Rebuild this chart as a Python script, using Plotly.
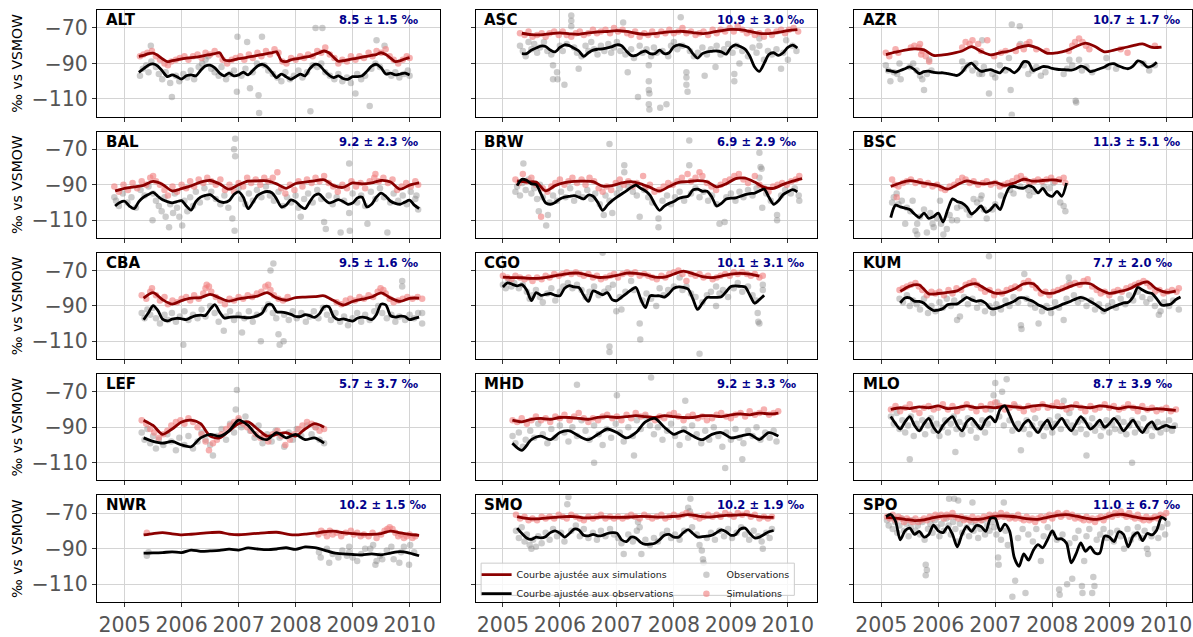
import plotly.graph_objects as go

# ---------------------------------------------------------------------------
# Stations, panel statistics and axis ticks
# ---------------------------------------------------------------------------
STATIONS = ["ALT", "ASC", "AZR", "BAL", "BRW", "BSC", "CBA", "CGO",
            "KUM", "LEF", "MHD", "MLO", "NWR", "SMO", "SPO"]
BIAS_MEAN = [8.5, 10.9, 10.7, 9.2, 6.9, 11.3, 9.5, 10.1, 7.7, 5.7, 9.2, 8.7, 10.2, 10.2, 11.0]
BIAS_STD = [1.5, 3.0, 1.7, 2.3, 2.9, 5.1, 1.6, 3.1, 2.0, 3.7, 3.3, 3.9, 1.5, 1.9, 6.7]
X_TICKS = [2005, 2006, 2007, 2008, 2009, 2010]
Y_TICKS = [-70, -90, -110]
Y_TICK_TEXT = ["\u221270", "\u221290", "\u2212110"]

# Fitted curves are stored on a regular monthly grid:
# (first month counted from Jan 2005, step in months) for simulations, then observations
FIT_GRID = {
    "ALT": (3, 1, 3, 1), "ASC": (4, 2, 4, 1), "AZR": (1, 2, 1, 1),
    "BAL": (-2, 2, -2, 1), "BRW": (3, 2, 3, 1), "BSC": (2, 2, 2, 1),
    "CBA": (4, 2, 4, 1), "CGO": (0, 2, 0, 1), "KUM": (4, 2, 4, 1),
    "LEF": (4, 2, 4, 2), "MHD": (2, 2, 2, 2), "MLO": (2, 2, 2, 1),
    "NWR": (4, 2, 4, 2), "SMO": (3, 2, 3, 1), "SPO": (1, 2, 1, 1),
}

# ---------------------------------------------------------------------------
# ALT
# ---------------------------------------------------------------------------
ALT_FIT_SIM = [-86, -85.5, -84.5, -84.2, -85.5, -87.5, -89, -88.5, -88, -87.5, -87, -86.8, -86.5, -86, -85.5,
               -85, -84.5, -84, -88, -88.5, -88, -87.3, -87, -86.5, -86, -85.5, -85, -84.5, -84, -83.5, -88.5,
               -89, -88, -87.5, -87, -86.5, -86, -85, -84, -83, -84, -86.5, -88.8, -88.5, -88, -87.5, -87,
               -86.5, -86, -85.5, -85, -84, -85, -87, -89, -88.5, -87.5, -86.8]
ALT_FIT_OBS = [-95, -93, -91, -90.3, -91.5, -94.5, -97.5, -96.5, -97.5, -98.8, -97, -96.5, -97, -94, -91.5,
               -91, -92.5, -95.5, -97, -95.5, -97, -96.5, -95, -96.5, -94, -91.5, -90.5, -92, -95, -98, -96,
               -97.5, -99, -97.5, -96, -97, -93, -90.5, -91, -94, -96.5, -98, -97, -98.5, -99, -97.5, -97.5,
               -97, -94.5, -91.5, -90.5, -92.5, -96, -95.5, -96.5, -96, -95.5, -96.5]
ALT_OBS = [(2005.27, -97), (2005.32, -93), (2005.38, -91), (2005.42, -95), (2005.47, -89), (2005.46, -80),
           (2005.55, -92), (2005.6, -96), (2005.66, -99), (2005.72, -95), (2005.8, -101), (2005.83, -109),
           (2005.9, -97), (2005.96, -100), (2006.03, -96), (2006.1, -98), (2006.16, -94), (2006.22, -99),
           (2006.3, -92), (2006.36, -90), (2006.42, -88), (2006.47, -86), (2006.52, -93), (2006.58, -95),
           (2006.65, -97), (2006.7, -92), (2006.78, -99), (2006.85, -96), (2006.92, -94), (2006.97, -106),
           (2006.98, -75), (2007.05, -97), (2007.12, -93), (2007.15, -78), (2007.2, -104), (2007.25, -95),
           (2007.32, -90), (2007.35, -108), (2007.36, -118), (2007.41, -75), (2007.45, -91), (2007.52, -94),
           (2007.6, -96), (2007.68, -98), (2007.75, -100), (2007.82, -95), (2007.9, -99), (2007.97, -97),
           (2008.05, -94), (2008.12, -98), (2008.2, -95), (2008.26, -117), (2008.3, -91), (2008.35, -70),
           (2008.38, -92), (2008.45, -90), (2008.47, -70), (2008.52, -95), (2008.6, -97), (2008.68, -99),
           (2008.75, -96), (2008.82, -100), (2008.9, -98), (2008.97, -101), (2009.05, -107), (2009.08, -96),
           (2009.15, -99), (2009.22, -97), (2009.3, -114), (2009.33, -93), (2009.4, -90), (2009.42, -77),
           (2009.48, -92), (2009.56, -80), (2009.6, -95), (2009.68, -97), (2009.75, -95), (2009.82, -98),
           (2009.9, -96), (2009.97, -94), (2010.0, -97)]
ALT_SIM = [(2005.27, -86), (2005.33, -85), (2005.4, -84), (2005.48, -83), (2005.55, -86), (2005.62, -88),
           (2005.7, -90), (2005.76, -91), (2005.82, -89), (2005.9, -88), (2005.97, -87), (2006.05, -86),
           (2006.12, -88), (2006.2, -86), (2006.28, -85), (2006.35, -87), (2006.42, -84), (2006.5, -85),
           (2006.58, -83), (2006.65, -85), (2006.72, -88), (2006.8, -90), (2006.88, -88), (2006.95, -87),
           (2007.03, -86), (2007.1, -88), (2007.18, -85), (2007.25, -87), (2007.33, -84), (2007.4, -86),
           (2007.48, -83), (2007.55, -85), (2007.63, -82), (2007.7, -84), (2007.77, -89), (2007.84, -90),
           (2007.92, -87), (2008.0, -88), (2008.08, -86), (2008.15, -87), (2008.22, -85), (2008.3, -86),
           (2008.38, -83), (2008.45, -84), (2008.52, -81), (2008.6, -85), (2008.68, -87), (2008.75, -90),
           (2008.82, -88), (2008.9, -89), (2008.97, -86), (2009.05, -88), (2009.12, -86), (2009.2, -87),
           (2009.28, -84), (2009.35, -86), (2009.42, -83), (2009.5, -84), (2009.58, -82), (2009.65, -86),
           (2009.72, -88), (2009.8, -90), (2009.88, -88), (2009.95, -86), (2010.0, -87)]

# ---------------------------------------------------------------------------
# ASC
# ---------------------------------------------------------------------------
ASC_FIT_SIM = [-73, -73.8, -73.9, -73.2, -72.8, -73.3, -73.6, -72.8, -72.2, -72, -71.5, -72, -73, -73.6,
               -73.2, -72.5, -72.1, -72, -72.6, -73.2, -72.5, -71.5, -70.8, -71, -72, -73.1, -73.2, -72.5,
               -71.5, -71]
ASC_FIT_OBS = [-84.5, -84.5, -82.5, -81.3, -80.2, -80.5, -82.5, -83.5, -81, -79.5, -80, -81.5, -83, -86, -84,
               -82.5, -82, -81.8, -81.3, -80.5, -79.5, -80, -83, -85.5, -85.5, -84, -83, -84.5, -84.5, -82.5,
               -84.5, -84, -80.5, -79.5, -80, -81, -84.5, -87, -84.5, -83.5, -83.2, -83, -83.5, -84.8, -81,
               -79.5, -80.5, -82, -86, -92, -94.5, -90, -85, -84, -85.5, -84, -81, -79.7, -81.3]
ASC_OBS = [(2005.3, -80), (2005.35, -83), (2005.4, -86), (2005.45, -78), (2005.5, -82), (2005.55, -79),
           (2005.6, -84), (2005.65, -81), (2005.72, -78), (2005.78, -83), (2005.85, -85), (2005.88, -91),
           (2005.88, -99), (2005.95, -95), (2005.96, -99), (2006.0, -80), (2006.05, -83), (2006.08, -102),
           (2006.12, -79), (2006.2, -63), (2006.2, -66), (2006.2, -69), (2006.25, -81), (2006.3, -84),
           (2006.33, -93), (2006.38, -86), (2006.45, -80), (2006.5, -83), (2006.55, -78), (2006.6, -82),
           (2006.66, -85), (2006.72, -80), (2006.78, -83), (2006.85, -79), (2006.9, -84), (2006.95, -81),
           (2007.0, -78), (2007.06, -83), (2007.11, -67), (2007.15, -85), (2007.19, -95), (2007.25, -82),
           (2007.3, -87), (2007.37, -109), (2007.4, -80), (2007.45, -84), (2007.52, -82), (2007.56, -91),
           (2007.56, -100), (2007.56, -105), (2007.57, -107), (2007.56, -113), (2007.57, -116), (2007.6, -86),
           (2007.65, -81), (2007.7, -84), (2007.76, -115), (2007.8, -83), (2007.87, -113), (2007.9, -86),
           (2007.95, -80), (2008.0, -78), (2008.06, -82), (2008.12, -64), (2008.15, -80), (2008.22, -95),
           (2008.22, -98), (2008.22, -102), (2008.24, -106), (2008.28, -83), (2008.35, -86), (2008.42, -84),
           (2008.5, -81), (2008.54, -97), (2008.58, -85), (2008.65, -82), (2008.73, -92), (2008.75, -80),
           (2008.82, -85), (2008.88, -82), (2008.95, -79), (2009.03, -84), (2009.06, -96), (2009.06, -100),
           (2009.1, -80), (2009.15, -90), (2009.2, -83), (2009.3, -86), (2009.38, -81), (2009.45, -84),
           (2009.5, -76), (2009.5, -80), (2009.58, -88), (2009.65, -83), (2009.72, -85), (2009.8, -82),
           (2009.88, -93), (2009.92, -84), (2009.97, -77), (2010.0, -88), (2010.08, -80), (2010.15, -83)]
ASC_SIM = [(2005.3, -73), (2005.38, -74), (2005.45, -72), (2005.52, -75), (2005.6, -74), (2005.68, -73),
           (2005.75, -75), (2005.82, -73), (2005.9, -72), (2005.98, -74), (2006.05, -72), (2006.12, -74),
           (2006.2, -75), (2006.28, -73), (2006.35, -72), (2006.42, -74), (2006.5, -73), (2006.58, -71),
           (2006.65, -73), (2006.72, -72), (2006.8, -71), (2006.88, -73), (2006.95, -70), (2007.02, -72),
           (2007.1, -71), (2007.18, -73), (2007.25, -74), (2007.32, -72), (2007.4, -75), (2007.48, -73),
           (2007.55, -74), (2007.62, -72), (2007.7, -74), (2007.78, -72), (2007.85, -73), (2007.92, -71),
           (2008.0, -73), (2008.08, -72), (2008.15, -70), (2008.22, -73), (2008.3, -72), (2008.38, -74),
           (2008.45, -73), (2008.52, -72), (2008.6, -74), (2008.68, -71), (2008.75, -73), (2008.82, -71),
           (2008.9, -72), (2008.98, -70), (2009.05, -72), (2009.12, -69), (2009.2, -71), (2009.28, -73),
           (2009.35, -72), (2009.42, -74), (2009.5, -73), (2009.58, -75), (2009.65, -72), (2009.72, -74),
           (2009.8, -72), (2009.88, -71), (2009.95, -73), (2010.02, -71), (2010.1, -70), (2010.18, -72)]

# ---------------------------------------------------------------------------
# AZR
# ---------------------------------------------------------------------------
AZR_FIT_SIM = [-85, -83.7, -82.5, -81.8, -82.4, -85.5, -85.2, -84.3, -83, -80.5, -83.2, -85.2, -84, -83, -81,
               -79.9, -81.5, -84.3, -84, -82.8, -80.5, -78.6, -80.5, -83.5, -82.5, -81.3, -80, -79, -81, -80.8]
AZR_FIT_OBS = [-93.8, -94.2, -94.9, -94, -93, -92, -93.5, -95.7, -94.6, -94.4, -95, -95.3, -95.3, -95.8, -96.3,
               -96.8, -95, -91.5, -89.8, -92.5, -94.4, -94, -93.5, -94.5, -95.3, -92.5, -93.5, -95.3, -93,
               -89, -89.5, -94, -93, -91.8, -92, -92.8, -93.3, -93.5, -93.6, -93.8, -93, -91.6, -92.5, -94.6,
               -94, -93, -92, -90.5, -90.2, -91.5, -92.5, -93, -91.5, -88.6, -89.5, -92, -91.5, -89.3]
AZR_OBS = [(2005.08, -91), (2005.12, -94), (2005.16, -100), (2005.22, -95), (2005.28, -96), (2005.32, -90),
           (2005.34, -99), (2005.5, -92), (2005.56, -90), (2005.62, -94), (2005.68, -97), (2005.72, -99),
           (2005.75, -105), (2005.8, -96), (2005.84, -88), (2005.88, -94), (2006.42, -89), (2006.45, -93),
           (2006.52, -91), (2006.6, -94), (2006.65, -90), (2006.72, -96), (2006.77, -96), (2006.8, -92),
           (2006.77, -77), (2006.89, -107), (2006.95, -96), (2007.0, -98), (2007.08, -91), (2007.18, -94),
           (2007.24, -87), (2007.27, -105), (2007.29, -68), (2007.29, -119), (2007.43, -69), (2007.44, -79),
           (2007.5, -91), (2007.58, -96), (2007.65, -94), (2007.72, -92), (2007.8, -97), (2007.88, -95),
           (2008.2, -96), (2008.26, -93), (2008.3, -88), (2008.35, -91), (2008.41, -111), (2008.42, -112),
           (2008.47, -88), (2008.52, -94), (2008.6, -92), (2008.7, -95), (2008.95, -87), (2008.98, -92),
           (2009.12, -93), (2009.6, -90), (2009.7, -94), (2009.8, -91)]
AZR_SIM = [(2005.08, -84), (2005.14, -86), (2005.25, -82), (2005.3, -84), (2005.52, -81), (2005.58, -80),
           (2005.66, -81), (2005.68, -79), (2005.72, -83), (2005.78, -86), (2005.84, -89), (2005.7, -85),
           (2006.42, -81), (2006.48, -78), (2006.55, -79), (2006.6, -77), (2006.7, -79), (2006.75, -83),
           (2006.86, -77), (2006.98, -86), (2007.1, -84), (2007.18, -83), (2007.36, -83), (2007.42, -80),
           (2007.5, -82), (2007.55, -79), (2007.6, -78), (2007.72, -82), (2007.9, -83), (2008.29, -83),
           (2008.35, -80), (2008.4, -78), (2008.47, -76), (2008.53, -78), (2008.59, -80), (2008.65, -82),
           (2009.2, -82), (2009.32, -84), (2009.8, -80)]

# ---------------------------------------------------------------------------
# BAL
# ---------------------------------------------------------------------------
BAL_FIT_SIM = [-93.5, -92, -91.2, -90.3, -88.1, -89.8, -93.5, -92.2, -90.6, -88.5, -87.6, -89.5, -92.5, -90,
               -88, -87.8, -87.8, -89.5, -92, -89.3, -88.5, -87.8, -87.2, -90.5, -91.5, -89, -89.5, -89,
               -87.6, -88.5, -92.5, -90.2, -89]
BAL_FIT_OBS = [-102, -100, -99.3, -102, -103.5, -99.5, -97, -95.5, -94.3, -96.5, -98.5, -99.5, -100.2, -99.5,
               -99, -102, -104.3, -99.5, -97, -96, -95.6, -97.5, -99.5, -100, -99, -95.5, -94, -97, -103.5,
               -100, -96, -94.5, -93.8, -94.5, -98, -102.5, -101.5, -98.5, -99.5, -102, -103.5, -99.5, -96,
               -95.3, -98, -100.2, -99.5, -98.4, -99.5, -101, -100.3, -97.5, -97, -102.5, -101, -97, -94.7,
               -96.5, -99.3, -100.5, -101, -99.8, -98.7, -101.5, -103.5]
BAL_OBS = [(2004.82, -97), (2004.85, -99), (2004.9, -102), (2004.97, -95), (2005.05, -100), (2005.12, -97),
           (2005.2, -103), (2005.28, -93), (2005.35, -96), (2005.42, -91), (2005.49, -110), (2005.5, -95),
           (2005.55, -99), (2005.6, -102), (2005.65, -105), (2005.7, -97), (2005.72, -108), (2005.78, -114),
           (2005.8, -101), (2005.85, -106), (2005.88, -95), (2005.92, -103), (2005.96, -108), (2006.01, -113),
           (2006.05, -99), (2006.1, -105), (2006.15, -97), (2006.2, -102), (2006.25, -94), (2006.32, -100),
           (2006.4, -92), (2006.45, -97), (2006.52, -94), (2006.6, -98), (2006.68, -101), (2006.75, -96),
           (2006.82, -103), (2006.89, -109), (2006.92, -70), (2006.93, -116), (2006.94, -64), (2006.94, -74),
           (2007.0, -92), (2007.05, -98), (2007.12, -101), (2007.18, -95), (2007.25, -99), (2007.32, -93),
           (2007.4, -97), (2007.48, -91), (2007.55, -96), (2007.62, -99), (2007.7, -94), (2007.78, -102),
           (2007.85, -97), (2007.92, -100), (2008.0, -96), (2008.05, -103), (2008.09, -108), (2008.15, -98),
           (2008.22, -95), (2008.3, -100), (2008.38, -93), (2008.45, -98), (2008.5, -111), (2008.53, -115),
           (2008.58, -96), (2008.65, -101), (2008.72, -97), (2008.79, -117), (2008.85, -99), (2008.94, -78),
           (2008.94, -106), (2008.95, -116), (2009.0, -95), (2009.08, -100), (2009.15, -96), (2009.22, -102),
           (2009.26, -112), (2009.32, -94), (2009.4, -98), (2009.48, -92), (2009.55, -97), (2009.61, -117),
           (2009.66, -100), (2009.72, -95), (2009.8, -99), (2009.88, -96), (2009.95, -101), (2010.02, -94),
           (2010.1, -98), (2010.12, -96), (2010.15, -104)]
BAL_SIM = [(2004.82, -91), (2004.9, -94), (2004.98, -90), (2005.06, -93), (2005.14, -89), (2005.22, -92),
           (2005.3, -88), (2005.38, -90), (2005.45, -86), (2005.5, -85), (2005.55, -88), (2005.62, -90),
           (2005.7, -93), (2005.76, -96), (2005.84, -91), (2005.92, -94), (2006.0, -90), (2006.08, -92),
           (2006.15, -88), (2006.22, -91), (2006.3, -87), (2006.38, -89), (2006.45, -86), (2006.52, -88),
           (2006.6, -90), (2006.68, -87), (2006.76, -93), (2006.84, -90), (2006.92, -94), (2007.0, -89),
           (2007.08, -91), (2007.15, -86), (2007.22, -89), (2007.3, -87), (2007.38, -90), (2007.45, -86),
           (2007.52, -88), (2007.6, -86), (2007.68, -83), (2007.75, -92), (2007.82, -95), (2007.9, -90),
           (2007.98, -93), (2008.05, -88), (2008.12, -91), (2008.2, -87), (2008.28, -89), (2008.35, -86),
           (2008.42, -88), (2008.5, -85), (2008.58, -89), (2008.66, -91), (2008.74, -94), (2008.82, -90),
           (2008.9, -92), (2008.98, -88), (2009.06, -91), (2009.14, -89), (2009.22, -92), (2009.3, -88),
           (2009.38, -86), (2009.4, -84), (2009.46, -88), (2009.54, -86), (2009.62, -89), (2009.7, -87),
           (2009.78, -93), (2009.86, -91), (2009.94, -89), (2010.02, -91), (2010.1, -88), (2010.15, -90)]

# ---------------------------------------------------------------------------
# BRW
# ---------------------------------------------------------------------------
BRW_FIT_SIM = [-87.8, -88.5, -88.5, -93.5, -90.5, -88.8, -88.1, -88, -88.3, -90.8, -90.5, -89, -88.2, -89.5,
               -91.5, -93.5, -91, -88.7, -88.2, -87.7, -88.3, -91.2, -89.5, -86.5, -86.3, -88.5, -91.5, -92,
               -89.8, -88, -86.5]
BRW_FIT_OBS = [-90.5, -87, -87.5, -89.5, -90, -95, -100.2, -101, -100, -98, -97, -96.5, -96.1, -97, -98, -95.8,
               -96.5, -100, -104.5, -101.5, -99, -97, -95.2, -93.5, -91.5, -90.2, -92, -93.5, -96, -101,
               -104.5, -102, -100.5, -99.5, -97.8, -97, -96.5, -93, -92.5, -93.7, -93.7, -97, -102, -100.5,
               -98, -97.6, -97.4, -96.5, -95.6, -95, -94.7, -93.5, -92.5, -97, -101, -99, -95.6, -94, -92.8, -94]
BRW_OBS = [(2005.22, -94), (2005.25, -91), (2005.3, -96), (2005.34, -89), (2005.36, -78), (2005.4, -93),
           (2005.45, -87), (2005.5, -95), (2005.55, -92), (2005.6, -98), (2005.63, -105), (2005.65, -90),
           (2005.7, -97), (2005.76, -113), (2005.79, -107), (2005.82, -100), (2005.88, -96), (2005.95, -99),
           (2006.02, -94), (2006.1, -97), (2006.18, -92), (2006.25, -99), (2006.32, -95), (2006.4, -97),
           (2006.48, -93), (2006.55, -98), (2006.62, -95), (2006.7, -101), (2006.77, -107), (2006.8, -96),
           (2006.87, -67), (2006.87, -99), (2006.92, -106), (2007.0, -95), (2007.05, -92), (2007.13, -79),
           (2007.13, -83), (2007.2, -91), (2007.28, -94), (2007.35, -96), (2007.4, -108), (2007.48, -93),
           (2007.55, -97), (2007.62, -100), (2007.73, -109), (2007.73, -114), (2007.8, -99), (2007.88, -96),
           (2007.95, -101), (2008.02, -97), (2008.1, -94), (2008.18, -99), (2008.27, -65), (2008.27, -79),
           (2008.3, -95), (2008.38, -92), (2008.45, -97), (2008.52, -94), (2008.6, -99), (2008.67, -96),
           (2008.75, -101), (2008.8, -112), (2008.89, -111), (2008.92, -97), (2009.0, -95), (2009.08, -99),
           (2009.15, -94), (2009.22, -97), (2009.3, -93), (2009.38, -96), (2009.45, -92), (2009.5, -72),
           (2009.52, -80), (2009.54, -81), (2009.5, -86), (2009.55, -103), (2009.62, -95), (2009.7, -99),
           (2009.81, -107), (2009.81, -110), (2009.88, -96), (2009.95, -93), (2010.05, -95), (2010.12, -92),
           (2010.19, -96), (2010.2, -99)]
BRW_SIM = [(2005.22, -87), (2005.28, -89), (2005.35, -84), (2005.42, -88), (2005.5, -86), (2005.58, -90),
           (2005.67, -108), (2005.7, -92), (2005.78, -94), (2005.85, -91), (2005.92, -89), (2006.0, -87),
           (2006.08, -90), (2006.15, -88), (2006.22, -86), (2006.3, -89), (2006.38, -87), (2006.45, -90),
           (2006.52, -86), (2006.6, -88), (2006.68, -92), (2006.75, -94), (2006.82, -91), (2006.9, -93),
           (2006.98, -89), (2007.05, -87), (2007.12, -90), (2007.2, -88), (2007.28, -91), (2007.35, -89),
           (2007.46, -85), (2007.5, -92), (2007.58, -90), (2007.66, -94), (2007.74, -93), (2007.82, -91),
           (2007.9, -89), (2007.98, -90), (2008.06, -88), (2008.14, -86), (2008.24, -84), (2008.3, -88),
           (2008.38, -86), (2008.45, -83), (2008.5, -85), (2008.58, -89), (2008.66, -91), (2008.74, -93),
           (2008.82, -90), (2008.9, -88), (2008.98, -87), (2009.06, -85), (2009.14, -84), (2009.22, -87),
           (2009.3, -89), (2009.42, -85), (2009.5, -90), (2009.58, -92), (2009.66, -94), (2009.74, -91),
           (2009.82, -90), (2009.9, -89), (2009.98, -90), (2010.06, -88), (2010.14, -87), (2010.2, -85)]

# ---------------------------------------------------------------------------
# BSC
# ---------------------------------------------------------------------------
BSC_FIT_SIM = [-91, -89, -87.7, -88.6, -89.5, -90.5, -92.5, -90, -87.8, -89, -89.5, -88.7, -90.3, -89, -86.9,
               -88, -87.6, -87.3, -88]
BSC_FIT_OBS = [-108.5, -101.5, -102.5, -103.2, -104, -106.5, -108.5, -106, -109, -108, -106, -111, -104, -98,
               -99.5, -100.3, -102.5, -106.5, -104.5, -102, -105.5, -104, -101.2, -104, -97, -91.5, -91,
               -91.8, -91.9, -90.5, -91.5, -94.6, -92, -95.5, -96.5, -93.7, -96.5, -89]
BSC_OBS = [(2005.19, -100), (2005.22, -97), (2005.27, -95), (2005.3, -101), (2005.36, -99), (2005.42, -112),
           (2005.45, -103), (2005.51, -105), (2005.55, -99), (2005.6, -116), (2005.63, -112), (2005.63, -118),
           (2005.68, -108), (2005.75, -104), (2005.8, -117), (2005.86, -106), (2005.9, -112), (2005.92, -114),
           (2005.98, -109), (2006.03, -99), (2006.05, -112), (2006.09, -118), (2006.15, -115), (2006.2, -107),
           (2006.24, -110), (2006.33, -103), (2006.33, -110), (2006.4, -102), (2006.5, -104), (2006.55, -107),
           (2006.62, -98), (2006.68, -100), (2006.76, -96), (2006.74, -98), (2006.8, -104), (2006.85, -109),
           (2006.95, -104), (2007.0, -101), (2007.1, -96), (2007.26, -93), (2007.32, -95), (2007.44, -91),
           (2007.58, -93), (2007.6, -96), (2007.68, -94), (2007.85, -91), (2007.95, -92), (2008.02, -89),
           (2008.14, -100), (2008.2, -102), (2008.23, -105)]
BSC_SIM = [(2005.19, -87), (2005.24, -90), (2005.27, -97), (2005.3, -91), (2005.38, -89), (2005.45, -88),
           (2005.52, -87), (2005.6, -89), (2005.68, -88), (2005.75, -90), (2005.82, -89), (2005.9, -91),
           (2005.98, -90), (2006.05, -92), (2006.12, -93), (2006.2, -91), (2006.28, -90), (2006.35, -88),
           (2006.42, -86), (2006.48, -87), (2006.55, -89), (2006.62, -88), (2006.7, -90), (2006.78, -89),
           (2006.85, -88), (2006.92, -90), (2007.0, -89), (2007.08, -91), (2007.15, -90), (2007.22, -89),
           (2007.3, -88), (2007.38, -86), (2007.45, -85), (2007.52, -87), (2007.6, -89), (2007.68, -88),
           (2007.75, -87), (2007.82, -88), (2007.9, -87), (2007.98, -86), (2008.05, -88), (2008.12, -87),
           (2008.2, -86), (2008.23, -89)]

# ---------------------------------------------------------------------------
# CBA
# ---------------------------------------------------------------------------
CBA_FIT_SIM = [-85.6, -82.5, -86.5, -89, -87, -85.6, -85.3, -83.5, -85.5, -87.3, -86, -85.2, -84.5, -82.5, -85.5,
               -86.8, -85.3, -85, -84.8, -84.3, -87, -89.5, -87.5, -86.2, -85, -82.6, -85.5, -87.5, -85.7, -85.6]
CBA_FIT_OBS = [-97.8, -94, -89.8, -92.5, -97.5, -98.5, -97.5, -97, -97.3, -97.8, -96.5, -95.5, -95.2, -95.5, -92,
               -89.3, -93.5, -96.8, -96.5, -96.2, -96.2, -96.5, -96.7, -96.3, -95.5, -94, -89.5, -89.3, -93.3,
               -93.5, -94, -94.8, -96, -96, -95, -95.5, -96.5, -94.5, -90.5, -90.5, -96, -97.8, -97.3, -98,
               -98.6, -97, -96.3, -96.8, -97.8, -95, -89, -89.5, -95.5, -96.3, -95.8, -96, -97.8, -97, -96.3]
CBA_OBS = [(2005.3, -94), (2005.35, -97), (2005.4, -92), (2005.45, -95), (2005.5, -91), (2005.55, -97),
           (2005.62, -100), (2005.7, -95), (2005.76, -98), (2005.83, -94), (2005.9, -99), (2005.97, -96),
           (2006.03, -112), (2006.05, -93), (2006.12, -98), (2006.2, -95), (2006.28, -97), (2006.35, -92),
           (2006.42, -96), (2006.5, -90), (2006.58, -94), (2006.65, -99), (2006.74, -104), (2006.78, -96),
           (2006.85, -93), (2006.92, -98), (2007.0, -95), (2007.06, -105), (2007.1, -97), (2007.18, -93),
           (2007.25, -99), (2007.32, -95), (2007.39, -110), (2007.45, -92), (2007.52, -89), (2007.56, -70),
           (2007.61, -66), (2007.6, -94), (2007.66, -97), (2007.7, -106), (2007.72, -112), (2007.79, -110),
           (2007.8, -95), (2007.88, -98), (2007.95, -93), (2008.02, -97), (2008.1, -94), (2008.18, -99),
           (2008.25, -96), (2008.32, -93), (2008.4, -97), (2008.48, -91), (2008.55, -95), (2008.62, -98),
           (2008.7, -94), (2008.78, -99), (2008.85, -96), (2008.92, -101), (2009.0, -97), (2009.08, -94),
           (2009.15, -99), (2009.22, -95), (2009.3, -98), (2009.38, -93), (2009.45, -90), (2009.52, -94),
           (2009.6, -97), (2009.68, -95), (2009.75, -99), (2009.82, -96), (2009.87, -76), (2009.87, -79),
           (2009.92, -98), (2010.0, -95), (2010.08, -97), (2010.15, -94), (2010.22, -94), (2010.22, -100)]
CBA_SIM = [(2005.3, -84), (2005.38, -86), (2005.45, -82), (2005.48, -80), (2005.55, -84), (2005.62, -87),
           (2005.7, -85), (2005.76, -89), (2005.84, -87), (2005.92, -88), (2006.0, -86), (2006.08, -85),
           (2006.15, -87), (2006.22, -84), (2006.3, -86), (2006.38, -83), (2006.42, -80), (2006.44, -78),
           (2006.48, -79), (2006.52, -82), (2006.6, -85), (2006.68, -87), (2006.76, -89), (2006.84, -86),
           (2006.92, -87), (2007.0, -85), (2007.08, -86), (2007.16, -84), (2007.24, -85), (2007.32, -83),
           (2007.4, -82), (2007.47, -79), (2007.52, -78), (2007.56, -81), (2007.62, -84), (2007.7, -86),
           (2007.78, -87), (2007.86, -85), (2008.72, -88), (2008.8, -89), (2008.88, -87), (2008.96, -86),
           (2009.04, -87), (2009.12, -85), (2009.2, -86), (2009.28, -84), (2009.36, -85), (2009.44, -82),
           (2009.49, -80), (2009.54, -81), (2009.58, -83), (2009.65, -86), (2009.72, -88), (2009.8, -87),
           (2009.88, -86), (2009.96, -85), (2010.05, -86), (2010.14, -85), (2010.22, -86)]

# ---------------------------------------------------------------------------
# CGO
# ---------------------------------------------------------------------------
CGO_FIT_SIM = [-73.7, -74, -74.1, -74.5, -74.3, -73.5, -72.5, -71.6, -71.5, -72.7, -73.9, -73.7, -72.8, -71.5,
               -71.6, -72.4, -73.7, -73.8, -72, -70.4, -71.8, -73.4, -74, -73.2, -72, -71.6, -72, -73.2]
CGO_FIT_OBS = [-79.3, -77, -77.8, -78.7, -78, -81, -87, -82.5, -84, -83.5, -83, -84, -84.3, -80, -78.5, -79.3,
               -79.6, -84, -87.5, -81.5, -82.5, -83.7, -82.5, -86.5, -87, -85, -83, -81, -79.6, -86, -91,
               -84.3, -84.3, -84.3, -85, -83, -80, -79.3, -79.5, -80.5, -86, -92, -88.5, -85.2, -85.2, -85.2,
               -84.8, -82, -79, -78.7, -79, -79.3, -84, -88.5, -86.5, -84]
CGO_OBS = [(2005.0, -78), (2005.05, -80), (2005.1, -76), (2005.15, -79), (2005.2, -77), (2005.28, -80),
           (2005.35, -78), (2005.42, -82), (2005.47, -86), (2005.52, -84), (2005.58, -81), (2005.65, -85),
           (2005.7, -88), (2005.78, -83), (2005.85, -80), (2005.92, -87), (2006.0, -82), (2006.06, -79),
           (2006.14, -77), (2006.22, -80), (2006.3, -78), (2006.38, -81), (2006.45, -85), (2006.52, -82),
           (2006.6, -79), (2006.68, -84), (2006.75, -60), (2006.78, -82), (2006.85, -80), (2006.87, -113),
           (2006.87, -116), (2006.93, -78), (2006.99, -93), (2007.05, -85), (2007.08, -92), (2007.15, -82),
           (2007.25, -76), (2007.3, -81), (2007.4, -100), (2007.41, -109), (2007.45, -87), (2007.52, -83),
           (2007.6, -86), (2007.69, -90), (2007.75, -80), (2007.82, -84), (2007.9, -81), (2008.0, -79),
           (2008.1, -74), (2008.15, -81), (2008.22, -79), (2008.3, -83), (2008.38, -85), (2008.45, -117),
           (2008.5, -88), (2008.58, -84), (2008.65, -82), (2008.74, -79), (2008.74, -90), (2008.8, -83),
           (2008.86, -81), (2008.95, -85), (2009.05, -80), (2009.12, -77), (2009.2, -82), (2009.3, -79),
           (2009.38, -84), (2009.44, -87), (2009.47, -94), (2009.48, -99), (2009.5, -100), (2009.56, -78),
           (2009.56, -81)]
CGO_SIM = [(2005.0, -73), (2005.08, -74), (2005.15, -75), (2005.22, -73), (2005.3, -74), (2005.38, -75),
           (2005.45, -74), (2005.52, -76), (2005.6, -74), (2005.68, -75), (2005.75, -73), (2005.82, -74),
           (2005.9, -72), (2005.98, -73), (2006.05, -72), (2006.12, -71), (2006.2, -72), (2006.28, -71),
           (2006.35, -72), (2006.42, -73), (2006.5, -72), (2006.58, -74), (2006.65, -73), (2006.72, -75),
           (2006.8, -74), (2006.88, -73), (2006.95, -72), (2007.02, -74), (2007.1, -72), (2007.18, -71),
           (2007.25, -72), (2007.32, -71), (2007.4, -73), (2007.48, -72), (2007.55, -73), (2007.62, -74),
           (2007.7, -75), (2007.78, -73), (2007.85, -74), (2007.92, -72), (2008.0, -71), (2008.08, -70),
           (2008.15, -72), (2008.22, -76), (2008.3, -72), (2008.38, -73), (2008.45, -72), (2008.52, -74),
           (2008.6, -73), (2008.68, -75), (2008.75, -74), (2008.82, -73), (2008.9, -72), (2008.98, -73),
           (2009.05, -71), (2009.12, -72), (2009.2, -71), (2009.28, -72), (2009.35, -73), (2009.42, -72),
           (2009.5, -74), (2009.56, -73)]

# ---------------------------------------------------------------------------
# KUM
# ---------------------------------------------------------------------------
KUM_FIT_SIM = [-81.8, -78.8, -78.2, -83.2, -83, -82.4, -81.5, -78.5, -77.5, -80.5, -82.8, -82.5, -80.5, -77.5,
               -77.5, -82.3, -82.8, -81, -78.8, -77.3, -77.5, -80.8, -82.9, -82, -80.6, -78, -76.5, -80.5,
               -82.3, -81.6]
KUM_FIT_OBS = [-88.3, -85.5, -85.5, -87.4, -87.5, -88.5, -91, -92.6, -92.4, -91.5, -89.3, -89, -88.9, -87, -85.2,
               -86.5, -87.4, -87, -88.5, -91.5, -91.5, -90.7, -89.5, -88.5, -87.3, -85.5, -85.5, -86.5, -87.5,
               -89.3, -90.5, -92, -91.5, -90.5, -89.3, -88.3, -87.2, -86, -85.2, -86, -87.5, -89, -91, -92.6,
               -91.5, -90.3, -89.3, -88.3, -88, -85, -79.6, -81, -82.4, -83, -86, -89.5, -89.5, -88.9, -86.5,
               -85]
KUM_OBS = [(2005.32, -86), (2005.38, -88), (2005.45, -84), (2005.5, -90), (2005.56, -87), (2005.62, -89),
           (2005.68, -92), (2005.75, -86), (2005.82, -94), (2005.88, -90), (2005.95, -93), (2006.02, -88),
           (2006.08, -91), (2006.15, -86), (2006.22, -90), (2006.28, -87), (2006.33, -98), (2006.38, -96),
           (2006.45, -85), (2006.52, -89), (2006.6, -86), (2006.68, -91), (2006.75, -88), (2006.82, -93),
           (2006.89, -62), (2006.9, -90), (2006.96, -94), (2007.02, -89), (2007.1, -92), (2007.18, -87),
           (2007.25, -90), (2007.32, -85), (2007.4, -88), (2007.45, -101), (2007.46, -103), (2007.51, -72),
           (2007.55, -86), (2007.62, -89), (2007.7, -91), (2007.76, -100), (2007.82, -93), (2007.9, -90),
           (2007.98, -94), (2008.05, -88), (2008.12, -91), (2008.2, -98), (2008.25, -86), (2008.29, -74),
           (2008.3, -77), (2008.38, -84), (2008.45, -88), (2008.52, -86), (2008.6, -90), (2008.68, -87),
           (2008.75, -92), (2008.82, -89), (2008.9, -93), (2008.98, -90), (2009.05, -88), (2009.12, -91),
           (2009.2, -86), (2009.28, -89), (2009.35, -84), (2009.42, -87), (2009.5, -82), (2009.58, -85),
           (2009.65, -88), (2009.72, -86), (2009.8, -90), (2009.87, -95), (2009.9, -93), (2009.96, -88),
           (2010.05, -90), (2010.12, -87), (2010.22, -92)]
KUM_SIM = [(2005.32, -81), (2005.38, -80), (2005.45, -79), (2005.52, -78), (2005.6, -77), (2005.66, -79),
           (2005.72, -81), (2005.8, -84), (2005.88, -82), (2005.95, -83), (2006.02, -82), (2006.1, -84),
           (2006.18, -81), (2006.25, -83), (2006.32, -80), (2006.4, -81), (2006.48, -78), (2006.55, -77),
           (2006.62, -76), (2006.68, -78), (2006.75, -80), (2006.82, -82), (2006.9, -81), (2006.98, -84),
           (2007.05, -82), (2007.12, -83), (2007.2, -81), (2007.28, -80), (2007.35, -79), (2007.42, -80),
           (2007.5, -77), (2007.58, -76), (2007.65, -78), (2007.72, -80), (2007.8, -83), (2007.88, -82),
           (2007.95, -84), (2008.02, -82), (2008.1, -81), (2008.18, -80), (2008.25, -79), (2008.32, -78),
           (2008.4, -77), (2008.48, -78), (2008.55, -76), (2008.62, -75), (2008.7, -79), (2008.78, -81),
           (2008.85, -83), (2008.92, -82), (2009.0, -84), (2009.08, -82), (2009.15, -81), (2009.22, -82),
           (2009.3, -80), (2009.38, -79), (2009.45, -78), (2009.52, -77), (2009.6, -76), (2009.66, -77),
           (2009.72, -79), (2009.8, -82), (2009.88, -81), (2009.95, -83), (2010.02, -82), (2010.1, -81),
           (2010.18, -82), (2010.22, -80)]

# ---------------------------------------------------------------------------
# LEF
# ---------------------------------------------------------------------------
LEF_FIT_SIM = [-86, -89, -94, -91, -87, -86, -88, -95, -96, -92, -88, -87, -91, -95, -94, -93, -95, -91, -88, -90]
LEF_FIT_OBS = [-96, -98, -99, -98, -100, -101, -96, -94, -95, -92, -86, -89, -95, -97, -93, -96, -94, -97, -96, -99]
LEF_OBS = [(2005.3, -93), (2005.35, -97), (2005.4, -91), (2005.45, -99), (2005.5, -95), (2005.55, -102),
           (2005.6, -97), (2005.68, -100), (2005.75, -94), (2005.82, -98), (2005.9, -103), (2005.96, -96),
           (2006.05, -100), (2006.12, -95), (2006.2, -102), (2006.28, -98), (2006.35, -93), (2006.42, -97),
           (2006.5, -100), (2006.55, -106), (2006.62, -95), (2006.7, -91), (2006.78, -97), (2006.85, -88),
           (2006.92, -93), (2006.95, -80), (2006.97, -69), (2007.0, -86), (2007.05, -90), (2007.12, -84),
           (2007.2, -92), (2007.28, -96), (2007.35, -89), (2007.42, -99), (2007.5, -94), (2007.58, -98),
           (2007.65, -92), (2007.72, -96), (2007.8, -101), (2007.88, -93), (2007.95, -97), (2008.02, -91),
           (2008.1, -95), (2008.2, -89), (2008.28, -94), (2008.35, -90), (2008.42, -97), (2008.5, -99)]
LEF_SIM = [(2005.3, -86), (2005.38, -88), (2005.45, -91), (2005.52, -93), (2005.6, -96), (2005.68, -94),
           (2005.75, -92), (2005.82, -89), (2005.9, -87), (2005.98, -86), (2006.05, -88), (2006.12, -85),
           (2006.2, -87), (2006.28, -90), (2006.35, -94), (2006.42, -98), (2006.48, -103), (2006.55, -99),
           (2006.62, -97), (2006.7, -94), (2006.78, -91), (2006.85, -89), (2006.92, -87), (2007.0, -85),
           (2007.08, -88), (2007.15, -90), (2007.22, -92), (2007.3, -94), (2007.38, -96), (2007.45, -95),
           (2007.52, -98), (2007.6, -94), (2007.68, -92), (2007.75, -95), (2007.82, -100), (2007.9, -97),
           (2007.98, -94), (2008.05, -91), (2008.12, -89), (2008.2, -87), (2008.28, -88), (2008.35, -90),
           (2008.42, -92), (2008.5, -91)]

# ---------------------------------------------------------------------------
# MHD
# ---------------------------------------------------------------------------
MHD_FIT_SIM = [-86, -87, -85.5, -85, -85.5, -84.5, -84.5, -85, -85.5, -84.5, -84, -84.5, -84, -83.5, -84, -84.5,
               -83.5, -84, -84.5, -84.5, -83.5, -83.5, -84, -83, -82.5, -83, -82, -82.5, -82]
MHD_FIT_OBS = [-99, -103, -97, -95, -97, -93, -92, -95, -97, -94, -91, -93, -96, -93, -87, -85, -90, -94, -92,
               -95, -97, -94, -93, -96, -95, -94, -97, -93, -95]
MHD_OBS = [(2005.17, -95), (2005.22, -99), (2005.28, -93), (2005.35, -101), (2005.4, -97), (2005.48, -92),
           (2005.55, -96), (2005.62, -88), (2005.7, -94), (2005.78, -99), (2005.85, -91), (2005.92, -96),
           (2006.0, -89), (2006.08, -93), (2006.15, -98), (2006.22, -90), (2006.3, -95), (2006.3, -66),
           (2006.38, -86), (2006.45, -92), (2006.52, -97), (2006.6, -89), (2006.6, -110), (2006.68, -94),
           (2006.75, -100), (2006.82, -91), (2006.9, -96), (2006.98, -88), (2007.0, -72), (2007.05, -93),
           (2007.12, -98), (2007.2, -90), (2007.28, -95), (2007.3, -106), (2007.35, -86), (2007.42, -91),
           (2007.5, -84), (2007.58, -89), (2007.6, -62), (2007.65, -94), (2007.72, -90), (2007.8, -97),
           (2007.88, -92), (2007.95, -88), (2008.02, -95), (2008.1, -100), (2008.18, -91), (2008.2, -75),
           (2008.25, -96), (2008.32, -89), (2008.4, -94), (2008.48, -99), (2008.55, -92), (2008.62, -97),
           (2008.7, -90), (2008.78, -95), (2008.85, -101), (2008.9, -113), (2008.92, -93), (2009.0, -97),
           (2009.08, -91), (2009.15, -96), (2009.2, -108), (2009.22, -99), (2009.3, -92), (2009.38, -95),
           (2009.45, -90), (2009.52, -97), (2009.6, -93), (2009.68, -96), (2009.75, -92), (2009.8, -98)]
MHD_SIM = [(2005.17, -86), (2005.25, -87), (2005.33, -85), (2005.42, -88), (2005.5, -86), (2005.58, -84),
           (2005.67, -86), (2005.75, -85), (2005.83, -87), (2005.92, -84), (2006.0, -85), (2006.08, -83),
           (2006.17, -86), (2006.25, -84), (2006.33, -82), (2006.42, -85), (2006.5, -87), (2006.58, -85),
           (2006.67, -86), (2006.75, -84), (2006.83, -83), (2006.92, -85), (2007.0, -84), (2007.08, -86),
           (2007.17, -83), (2007.25, -85), (2007.33, -82), (2007.42, -84), (2007.5, -83), (2007.58, -85),
           (2007.67, -86), (2007.75, -84), (2007.83, -85), (2007.92, -83), (2008.0, -82), (2008.08, -84),
           (2008.17, -86), (2008.25, -84), (2008.33, -83), (2008.42, -85), (2008.5, -84), (2008.58, -86),
           (2008.67, -85), (2008.75, -83), (2008.83, -82), (2008.92, -84), (2009.0, -85), (2009.08, -83),
           (2009.17, -82), (2009.25, -84), (2009.33, -81), (2009.42, -83), (2009.5, -82), (2009.58, -80),
           (2009.67, -83), (2009.75, -82), (2009.83, -81)]

# ---------------------------------------------------------------------------
# MLO
# ---------------------------------------------------------------------------
MLO_FIT_SIM = [-80, -79, -79.5, -78.5, -79, -78, -79.5, -79, -78, -79, -78.5, -79, -78, -78.5, -79, -78, -77.5,
               -78.5, -79, -78, -78.5, -79, -78, -78.5, -79.5, -78.5, -79, -80, -79.5, -80, -80.5]
MLO_FIT_OBS = [-84, -88, -91, -87, -84, -89, -92, -88, -85, -90, -93, -89, -86, -84, -89, -92, -87, -85, -88,
               -91, -86, -84, -87, -80, -78, -83, -89, -92, -88, -86, -90, -93, -89, -86, -91, -88, -85, -89,
               -92, -88, -84, -87, -91, -89, -86, -90, -88, -85, -88, -92, -89, -86, -90, -93, -89, -87, -91,
               -90, -89, -90, -90]
MLO_OBS = [(2005.17, -84), (2005.22, -88), (2005.27, -82), (2005.32, -91), (2005.37, -86), (2005.42, -93),
           (2005.47, -89), (2005.5, -108), (2005.52, -84), (2005.57, -95), (2005.62, -88), (2005.67, -91),
           (2005.72, -86), (2005.77, -94), (2005.82, -89), (2005.87, -85), (2005.92, -92), (2005.97, -88),
           (2006.02, -95), (2006.07, -90), (2006.12, -86), (2006.17, -93), (2006.22, -88), (2006.27, -84),
           (2006.3, -104), (2006.32, -91), (2006.37, -87), (2006.42, -94), (2006.47, -89), (2006.52, -85),
           (2006.57, -92), (2006.62, -88), (2006.67, -96), (2006.72, -90), (2006.77, -86), (2006.82, -93),
           (2006.87, -88), (2006.92, -80), (2006.97, -72), (2007.0, -65), (2007.03, -76), (2007.07, -84),
           (2007.12, -70), (2007.15, -89), (2007.2, -63), (2007.25, -86), (2007.3, -92), (2007.35, -78),
           (2007.4, -88), (2007.45, -103), (2007.5, -91), (2007.55, -86), (2007.6, -94), (2007.65, -89),
           (2007.7, -85), (2007.75, -92), (2007.8, -88), (2007.85, -95), (2007.9, -90), (2007.95, -86),
           (2008.0, -93), (2008.05, -88), (2008.1, -84), (2008.15, -91), (2008.2, -75), (2008.25, -87),
           (2008.3, -82), (2008.35, -89), (2008.4, -93), (2008.45, -87), (2008.5, -91), (2008.55, -86),
           (2008.6, -94), (2008.6, -106), (2008.65, -89), (2008.7, -85), (2008.75, -92), (2008.8, -88),
           (2008.85, -95), (2008.9, -90), (2008.95, -86), (2009.0, -93), (2009.05, -88), (2009.1, -91),
           (2009.15, -85), (2009.2, -92), (2009.25, -87), (2009.3, -94), (2009.35, -89), (2009.4, -110),
           (2009.4, -86), (2009.45, -93), (2009.5, -88), (2009.55, -91), (2009.6, -85), (2009.65, -92),
           (2009.7, -89), (2009.75, -95), (2009.8, -90), (2009.85, -87), (2009.9, -93), (2009.95, -88),
           (2010.0, -91), (2010.05, -86), (2010.1, -92), (2010.15, -89)]
MLO_SIM = [(2005.17, -80), (2005.25, -78), (2005.33, -81), (2005.42, -79), (2005.5, -77), (2005.58, -80),
           (2005.67, -82), (2005.75, -79), (2005.83, -78), (2005.92, -80), (2006.0, -79), (2006.08, -77),
           (2006.17, -80), (2006.25, -78), (2006.33, -81), (2006.42, -79), (2006.5, -77), (2006.58, -79),
           (2006.67, -81), (2006.75, -78), (2006.83, -80), (2006.92, -77), (2007.0, -76), (2007.08, -78),
           (2007.17, -80), (2007.25, -79), (2007.33, -77), (2007.42, -79), (2007.5, -81), (2007.58, -78),
           (2007.67, -80), (2007.75, -79), (2007.83, -77), (2007.92, -79), (2008.0, -78), (2008.08, -76),
           (2008.17, -78), (2008.25, -80), (2008.33, -79), (2008.42, -77), (2008.5, -79), (2008.58, -81),
           (2008.67, -78), (2008.75, -80), (2008.83, -79), (2008.92, -77), (2009.0, -79), (2009.08, -78),
           (2009.17, -80), (2009.25, -79), (2009.33, -77), (2009.42, -79), (2009.5, -81), (2009.58, -78),
           (2009.67, -80), (2009.75, -79), (2009.83, -81), (2009.92, -80), (2010.0, -79), (2010.08, -81),
           (2010.17, -80)]

# ---------------------------------------------------------------------------
# NWR
# ---------------------------------------------------------------------------
NWR_FIT_SIM = [-82.3, -81.5, -81, -81.7, -82.3, -81.9, -81.4, -81, -80.8, -81.8, -82.2, -81.8, -81.4, -81,
               -80.8, -81.7, -82.3, -81.8, -81.3, -80.5, -80.2, -81, -81.5, -81.9, -82, -81.5, -80.1, -81.2,
               -82, -82.5]
NWR_FIT_OBS = [-92.5, -92.4, -92.2, -91.8, -92.2, -90.8, -91.5, -91.3, -91, -90.3, -90.8, -89.6, -90.2, -90.6,
               -90.2, -89.5, -90.4, -89, -89.5, -90.8, -92.4, -93, -93.3, -93.5, -93, -93.5, -92.5, -91.7,
               -92.5, -94]
NWR_OBS = [(2005.39, -94), (2005.42, -92), (2008.41, -92), (2008.44, -95), (2008.55, -90), (2008.59, -98),
           (2008.65, -93), (2008.75, -95), (2008.82, -91), (2008.9, -94), (2008.94, -89), (2008.94, -92),
           (2009.0, -95), (2009.08, -97), (2009.15, -93), (2009.22, -90), (2009.31, -90), (2009.36, -88),
           (2009.4, -99), (2009.42, -97), (2009.48, -94), (2009.52, -96), (2009.6, -91), (2009.68, -89),
           (2009.72, -96), (2009.82, -98), (2009.85, -92), (2009.9, -89), (2009.99, -99), (2010.01, -88),
           (2010.08, -92)]
NWR_SIM = [(2005.39, -81), (2008.4, -82), (2008.45, -80), (2008.5, -81), (2008.55, -83), (2008.6, -80),
           (2008.65, -82), (2008.72, -81), (2008.8, -83), (2008.88, -81), (2008.97, -80), (2009.02, -82),
           (2009.08, -81), (2009.14, -83), (2009.2, -82), (2009.28, -83), (2009.35, -81), (2009.42, -84),
           (2009.5, -82), (2009.56, -80), (2009.61, -79), (2009.65, -78), (2009.7, -79), (2009.75, -81),
           (2009.8, -83), (2009.85, -82), (2009.9, -84), (2009.95, -83), (2010.0, -82), (2010.05, -84),
           (2010.1, -83)]

# ---------------------------------------------------------------------------
# SMO
# ---------------------------------------------------------------------------
SMO_FIT_SIM = [-72, -73, -73.3, -72.8, -72.4, -72, -72, -72.7, -72.6, -72.2, -72.4, -72.4, -72.2, -71.9, -72,
               -72.3, -72, -71.7, -70.9, -71.6, -72.3, -71.8, -71.3, -71.2, -70.9, -71.7, -72.3, -72.4]
SMO_FIT_OBS = [-78.5, -81.5, -84, -84.8, -83.5, -84, -83.3, -81, -80, -81.3, -83.5, -81.5, -79, -79.5, -82.5,
               -82.8, -82, -82.8, -82.5, -81.5, -81, -81.3, -85, -86, -83.5, -84, -86.5, -87.6, -87.5, -87,
               -85, -82.5, -82, -83.5, -83.5, -81, -79.3, -81.5, -83.5, -83.3, -83, -82.5, -81, -79.5, -80.5,
               -82.5, -82, -79, -78.5, -81.5, -84, -83.5, -82, -80.5, -79.8]
SMO_OBS = [(2005.23, -80), (2005.28, -84), (2005.33, -78), (2005.38, -86), (2005.42, -82), (2005.47, -88),
           (2005.5, -90), (2005.53, -85), (2005.58, -89), (2005.62, -83), (2005.68, -87), (2005.75, -81),
           (2005.82, -85), (2005.88, -79), (2005.95, -83), (2006.02, -81), (2006.08, -86), (2006.15, -61),
           (2006.13, -65), (2006.2, -80), (2006.28, -77), (2006.35, -83), (2006.42, -79), (2006.5, -84),
           (2006.58, -81), (2006.65, -85), (2006.72, -80), (2006.8, -83), (2006.88, -79), (2006.95, -82),
           (2007.02, -84), (2007.08, -87), (2007.12, -93), (2007.2, -82), (2007.28, -86), (2007.35, -80),
           (2007.37, -75), (2007.4, -78), (2007.43, -93), (2007.5, -85), (2007.58, -88), (2007.65, -84),
           (2007.72, -86), (2007.8, -82), (2007.88, -80), (2007.95, -84), (2008.02, -82), (2008.1, -85),
           (2008.18, -80), (2008.25, -67), (2008.28, -69), (2008.29, -62), (2008.32, -78), (2008.4, -82),
           (2008.45, -88), (2008.49, -91), (2008.51, -96), (2008.52, -98), (2008.58, -84), (2008.65, -81),
           (2008.72, -85), (2008.8, -80), (2008.88, -83), (2008.95, -79), (2009.02, -84), (2009.1, -81),
           (2009.18, -78), (2009.25, -82), (2009.32, -85), (2009.4, -80), (2009.48, -83), (2009.54, -86),
           (2009.56, -90), (2009.62, -81), (2009.68, -84), (2009.72, -79)]
SMO_SIM = [(2005.23, -71), (2005.3, -73), (2005.38, -72), (2005.45, -74), (2005.52, -73), (2005.6, -74),
           (2005.68, -72), (2005.75, -73), (2005.82, -72), (2005.9, -73), (2005.98, -71), (2006.05, -72),
           (2006.12, -73), (2006.2, -71), (2006.28, -72), (2006.35, -73), (2006.42, -74), (2006.5, -72),
           (2006.58, -73), (2006.65, -72), (2006.72, -71), (2006.8, -73), (2006.88, -72), (2006.95, -73),
           (2007.02, -72), (2007.1, -73), (2007.18, -72), (2007.25, -71), (2007.32, -72), (2007.4, -73),
           (2007.48, -71), (2007.55, -72), (2007.62, -73), (2007.7, -72), (2007.78, -71), (2007.85, -73),
           (2007.92, -72), (2008.0, -71), (2008.08, -72), (2008.15, -71), (2008.22, -70), (2008.3, -71),
           (2008.38, -72), (2008.45, -73), (2008.52, -72), (2008.6, -71), (2008.68, -72), (2008.75, -71),
           (2008.82, -72), (2008.9, -70), (2008.98, -71), (2009.05, -72), (2009.12, -70), (2009.2, -71),
           (2009.28, -70), (2009.35, -72), (2009.42, -71), (2009.5, -73), (2009.58, -72), (2009.65, -73),
           (2009.72, -72)]

# ---------------------------------------------------------------------------
# SPO
# ---------------------------------------------------------------------------
SPO_FIT_SIM = [-72.4, -72.8, -73.5, -74.2, -73.8, -72.6, -71.7, -71.6, -72.4, -73.5, -73.4, -72.3, -71.6, -71.8,
               -72.4, -73.3, -73.5, -72.4, -71.3, -70.9, -71.7, -72.8, -73.6, -72.6, -71, -70.8, -72, -73,
               -73.2, -71.8]
SPO_FIT_OBS = [-72, -70.8, -74.6, -85, -80, -78.5, -82, -80.3, -83.5, -82, -76.8, -80, -81, -77.6, -82, -89,
               -82, -77.5, -80.3, -77, -77.5, -80.3, -73, -73, -80, -76.2, -80, -95, -100, -93, -96.5, -91,
               -87.8, -89.5, -85, -80, -84.5, -84.5, -87, -98, -93, -86.8, -91.5, -89, -92.5, -92.5, -83,
               -83.5, -86, -80.5, -82, -89, -83, -81, -85.5, -81.5, -82.3, -79.5, -72.5, -74]
SPO_OBS = [(2005.1, -74), (2005.13, -77), (2005.17, -72), (2005.2, -79), (2005.24, -75), (2005.28, -81),
           (2005.32, -77), (2005.36, -73), (2005.4, -80), (2005.44, -76), (2005.48, -83), (2005.52, -78),
           (2005.56, -74), (2005.6, -80), (2005.64, -77), (2005.68, -82), (2005.72, -75), (2005.76, -85),
           (2005.78, -99), (2005.8, -102), (2005.78, -105), (2005.82, -79), (2005.86, -76), (2005.9, -81),
           (2005.94, -74), (2005.98, -78), (2006.02, -83), (2006.06, -76), (2006.1, -80), (2006.14, -73),
           (2006.18, -77), (2006.19, -62), (2006.22, -82), (2006.26, -75), (2006.28, -62), (2006.3, -79),
           (2006.34, -86), (2006.35, -63), (2006.38, -76), (2006.42, -81), (2006.46, -73), (2006.5, -78),
           (2006.54, -83), (2006.58, -75), (2006.6, -64), (2006.62, -80), (2006.66, -77), (2006.7, -84),
           (2006.74, -79), (2006.78, -74), (2006.82, -82), (2006.86, -77), (2006.9, -80), (2006.94, -75),
           (2006.98, -78), (2007.02, -82), (2007.06, -99), (2007.05, -95), (2007.1, -85), (2007.15, -64),
           (2007.18, -80), (2007.22, -88), (2007.3, -117), (2007.35, -108), (2007.4, -84), (2007.48, -79),
           (2007.53, -115), (2007.58, -82), (2007.66, -86), (2007.72, -79), (2007.8, -97), (2007.85, -83),
           (2007.92, -78), (2008.0, -81), (2008.08, -85), (2008.12, -113), (2008.13, -116), (2008.18, -82),
           (2008.26, -110), (2008.3, -87), (2008.35, -107), (2008.4, -84), (2008.46, -80), (2008.52, -111),
           (2008.53, -115), (2008.56, -97), (2008.6, -83), (2008.65, -79), (2008.7, -115), (2008.72, -106),
           (2008.74, -111), (2008.78, -85), (2008.84, -82), (2008.9, -79), (2008.96, -84), (2009.02, -81),
           (2009.08, -86), (2009.14, -80), (2009.2, -83), (2009.26, -90), (2009.32, -79), (2009.38, -85),
           (2009.44, -82), (2009.5, -78), (2009.56, -84), (2009.62, -80), (2009.66, -90), (2009.68, -93),
           (2009.74, -83), (2009.8, -79), (2009.86, -84), (2009.92, -78), (2009.98, -82), (2010.02, -76)]
SPO_SIM = [(2005.1, -72), (2005.15, -73), (2005.2, -71), (2005.25, -74), (2005.3, -72), (2005.35, -73),
           (2005.4, -75), (2005.45, -73), (2005.5, -74), (2005.55, -75), (2005.6, -73), (2005.65, -75),
           (2005.7, -74), (2005.75, -73), (2005.8, -74), (2005.85, -72), (2005.9, -73), (2005.95, -71),
           (2006.0, -72), (2006.05, -71), (2006.1, -73), (2006.15, -71), (2006.2, -72), (2006.25, -70),
           (2006.3, -72), (2006.35, -73), (2006.4, -72), (2006.45, -74), (2006.5, -73), (2006.55, -74),
           (2006.6, -72), (2006.65, -74), (2006.7, -73), (2006.75, -74), (2006.8, -72), (2006.85, -73),
           (2006.9, -71), (2006.95, -72), (2007.0, -71), (2007.05, -72), (2007.1, -70), (2007.15, -72),
           (2007.2, -71), (2007.25, -73), (2007.3, -72), (2007.35, -73), (2007.4, -71), (2007.45, -73),
           (2007.5, -74), (2007.55, -72), (2007.6, -74), (2007.65, -73), (2007.7, -75), (2007.75, -73),
           (2007.8, -72), (2007.85, -74), (2007.9, -72), (2007.95, -71), (2008.0, -73), (2008.05, -71),
           (2008.1, -70), (2008.15, -72), (2008.2, -71), (2008.25, -70), (2008.3, -72), (2008.35, -71),
           (2008.4, -73), (2008.45, -72), (2008.5, -73), (2008.55, -74), (2008.6, -72), (2008.65, -74),
           (2008.7, -73), (2008.75, -75), (2008.8, -73), (2008.85, -72), (2008.9, -74), (2008.95, -72),
           (2009.0, -71), (2009.05, -72), (2009.1, -70), (2009.15, -71), (2009.2, -69), (2009.25, -71),
           (2009.3, -72), (2009.35, -70), (2009.4, -72), (2009.45, -73), (2009.5, -71), (2009.55, -73),
           (2009.6, -74), (2009.65, -72), (2009.7, -74), (2009.75, -73), (2009.8, -72), (2009.85, -73),
           (2009.9, -71), (2009.95, -72), (2010.0, -70)]

# ---------------------------------------------------------------------------
# Lookup tables built from the lists above
# ---------------------------------------------------------------------------
_g = globals()
OBS = {s: _g[s + "_OBS"] for s in STATIONS}
SIM = {s: _g[s + "_SIM"] for s in STATIONS}
FIT_SIM = {s: _g[s + "_FIT_SIM"] for s in STATIONS}
FIT_OBS = {s: _g[s + "_FIT_OBS"] for s in STATIONS}


def month_grid(first_month, step, n):
    """Decimal-year positions of a regular monthly series."""
    return [2005 + (first_month + k * step) / 12.0 for k in range(n)]


# ---------------------------------------------------------------------------
# Page geometry (pixels) for the 5 x 3 grid of panels
# ---------------------------------------------------------------------------
W, H = 1193, 637
COLS = [(97.0, 440.0, 124.7), (476.0, 818.0, 503.3), (855.0, 1193.0, 882.0)]  # left, right, x of 2005
ROWS = [(10.3, 117.7), (132.8, 240.2), (255.2, 362.4), (377.6, 485.0), (500.0, 607.7)]
PX_PER_YEAR = 57.05

FONT = "DejaVu Sans"
TICK_FONT = dict(size=20.5, color="#555555", family=FONT)
GREY_PTS = "rgba(128,128,128,0.40)"
PINK_PTS = "rgba(240,128,128,0.62)"
DARKRED = "#8B0000"
MARKER_SIZE = 6.5
LINE_WIDTH = 2.8

fig = go.Figure()
layout = dict(
    width=W, height=H,
    margin=dict(l=0, r=0, t=0, b=0),
    paper_bgcolor="white", plot_bgcolor="white",
    font=dict(family=FONT, color="black"),
    showlegend=True,
    annotations=[], shapes=[],
)

for i, st in enumerate(STATIONS):
    r, c = divmod(i, 3)
    n = i + 1
    xa = "x" if n == 1 else f"x{n}"
    ya = "y" if n == 1 else f"y{n}"
    in_legend = st == "SMO"

    obs_t = [p[0] for p in OBS[st]]
    obs_v = [p[1] for p in OBS[st]]
    sim_t = [p[0] for p in SIM[st]]
    sim_v = [p[1] for p in SIM[st]]
    s0, ds, o0, do = FIT_GRID[st]
    fs_t = month_grid(s0, ds, len(FIT_SIM[st]))
    fo_t = month_grid(o0, do, len(FIT_OBS[st]))

    fig.add_trace(go.Scatter(
        x=obs_t, y=obs_v, mode="markers", xaxis=xa, yaxis=ya,
        marker=dict(color=GREY_PTS, size=MARKER_SIZE, line=dict(width=0)),
        name="Observations", legend="legend2", showlegend=in_legend, hoverinfo="skip"))
    fig.add_trace(go.Scatter(
        x=sim_t, y=sim_v, mode="markers", xaxis=xa, yaxis=ya,
        marker=dict(color=PINK_PTS, size=MARKER_SIZE, line=dict(width=0)),
        name="Simulations", legend="legend2", showlegend=in_legend, hoverinfo="skip"))
    fig.add_trace(go.Scatter(
        x=fs_t, y=FIT_SIM[st], mode="lines", xaxis=xa, yaxis=ya,
        line=dict(color=DARKRED, width=LINE_WIDTH, shape="spline", smoothing=0.8),
        name="Courbe ajust\u00e9e aux simulations", legend="legend", showlegend=in_legend, hoverinfo="skip"))
    fig.add_trace(go.Scatter(
        x=fo_t, y=FIT_OBS[st], mode="lines", xaxis=xa, yaxis=ya,
        line=dict(color="black", width=LINE_WIDTH, shape="spline", smoothing=0.8),
        name="Courbe ajust\u00e9e aux observations", legend="legend", showlegend=in_legend, hoverinfo="skip"))

    left, right, x2005 = COLS[c]
    top, bottom = ROWS[r]
    x_range = [2005 - (x2005 - left) / PX_PER_YEAR, 2005 + (right - x2005) / PX_PER_YEAR]

    xkey = "xaxis" if n == 1 else f"xaxis{n}"
    ykey = "yaxis" if n == 1 else f"yaxis{n}"
    layout[xkey] = dict(
        domain=[left / W, min(right / W, 1.0)], anchor=ya, range=x_range,
        tickmode="array", tickvals=X_TICKS, ticktext=[str(v) for v in X_TICKS],
        showticklabels=(r == 4), tickfont=TICK_FONT, ticklabeloverflow="allow",
        ticks="outside", ticklen=4, tickwidth=1, tickcolor="#333333",
        showgrid=True, gridcolor="#d4d4d4", gridwidth=1, zeroline=False,
        showline=True, linecolor="black", linewidth=1, mirror=True,
    )
    layout[ykey] = dict(
        domain=[1 - bottom / H, 1 - top / H], anchor=xa, range=[-120, -60],
        tickmode="array", tickvals=Y_TICKS, ticktext=Y_TICK_TEXT,
        showticklabels=(c == 0), tickfont=TICK_FONT,
        ticks="outside", ticklen=4, tickwidth=1, tickcolor="#333333",
        showgrid=True, gridcolor="#d4d4d4", gridwidth=1, zeroline=False,
        showline=True, linecolor="black", linewidth=1, mirror=True,
    )
    if c == 0:
        layout[ykey]["title"] = dict(text="\u2030 vs VSMOW", font=dict(size=14, color="black", family=FONT),
                                     standoff=5)

    dom = "" if n == 1 else str(n)
    layout["annotations"].append(dict(
        xref=f"x{dom} domain", yref=f"y{dom} domain", x=0.02, y=0.905,
        xanchor="left", yanchor="middle", showarrow=False,
        text=f"<b>{st}</b>", font=dict(size=15, color="black", family=FONT)))
    layout["annotations"].append(dict(
        xref=f"x{dom} domain", yref=f"y{dom} domain", x=0.70, y=0.905,
        xanchor="left", yanchor="middle", showarrow=False,
        text=f"<b>{BIAS_MEAN[i]:.1f} \u00b1 {BIAS_STD[i]:.1f} \u2030</b>",
        font=dict(size=11.5, color="#00008B", family=FONT)))

# Legend frame inside the SMO panel
layout["shapes"].append(dict(
    type="rect", xref="paper", yref="paper", layer="above",
    x0=481.5 / W, x1=795.0 / W, y0=1 - 601.0 / H, y1=1 - 568.5 / H,
    fillcolor="rgba(255,255,255,0.8)", line=dict(color="#cccccc", width=1)))

layout["legend"] = dict(
    x=477.0 / W, y=1 - 565.5 / H, xanchor="left", yanchor="top",
    bgcolor="rgba(0,0,0,0)", borderwidth=0, font=dict(size=9.5, color="#222222", family=FONT),
    tracegroupgap=0, itemwidth=30)
layout["legend2"] = dict(
    x=687.0 / W, y=1 - 565.5 / H, xanchor="left", yanchor="top",
    bgcolor="rgba(0,0,0,0)", borderwidth=0, font=dict(size=9.5, color="#222222", family=FONT),
    tracegroupgap=0, itemwidth=30)

fig.update_layout(**layout)
fig.write_html("out.html")
